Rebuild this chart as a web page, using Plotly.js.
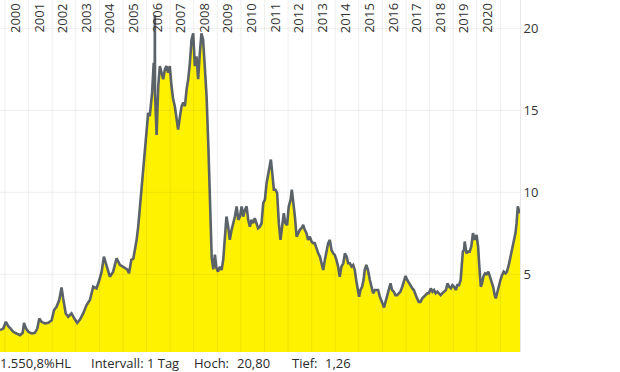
<!DOCTYPE html>
<html>
<head>
<meta charset="utf-8">
<script src="https://cdn.plot.ly/plotly-3.0.1.min.js"></script>
<style>html,body{margin:0;padding:0;background:#fff;}#chart{width:620px;height:372px;}</style>
</head>
<body>
<div id="chart"></div>
<script>
const dates = [
"1999-10-16","1999-12-05","2000-01-15","2000-02-20","2000-03-28","2000-05-08","2000-06-28","2000-08-22","2000-10-01","2000-10-22",
"2000-11-22","2000-12-28","2001-02-17","2001-04-08","2001-05-15","2001-06-15","2001-07-20","2001-09-10","2001-11-02","2001-12-24",
"2002-01-30","2002-03-10","2002-04-20","2002-05-26","2002-06-20","2002-07-30","2002-09-05","2002-10-27","2002-12-20","2003-01-23",
"2003-03-07","2003-04-26","2003-06-17","2003-08-08","2003-09-28","2003-11-18","2004-01-01","2004-02-06","2004-03-11","2004-04-22",
"2004-06-12","2004-08-02","2004-09-24","2004-11-14","2005-01-15","2005-03-07","2005-04-05","2005-05-10","2005-06-10","2005-07-05",
"2005-07-31","2005-08-25","2005-09-20","2005-10-16","2005-11-10","2005-12-05","2006-01-01","2006-01-26","2006-02-20","2006-03-28",
"2006-04-22","2006-05-08","2006-05-10","2006-05-12","2006-06-06","2006-07-01","2006-07-26","2006-08-22","2006-09-16","2006-10-12",
"2006-11-05","2006-12-01","2006-12-27","2007-01-22","2007-02-17","2007-03-14","2007-04-08","2007-05-05","2007-06-03","2007-06-28",
"2007-07-23","2007-08-18","2007-09-13","2007-10-08","2007-11-03","2007-11-28","2007-12-24","2008-01-19","2008-02-13","2008-03-10",
"2008-04-05","2008-04-30","2008-05-26","2008-06-20","2008-07-18","2008-08-15","2008-09-12","2008-10-06","2008-10-31","2008-11-24",
"2008-12-17","2009-01-12","2009-02-10","2009-03-08","2009-04-02","2009-04-27","2009-05-22","2009-06-18","2009-07-13","2009-08-10",
"2009-09-05","2009-09-30","2009-10-27","2009-11-21","2009-12-17","2010-01-12","2010-02-06","2010-03-04","2010-03-30","2010-04-24",
"2010-05-20","2010-06-14","2010-07-10","2010-08-04","2010-08-30","2010-09-24","2010-10-23","2010-11-17","2010-12-13","2011-01-08",
"2011-02-03","2011-02-28","2011-03-26","2011-04-10","2011-05-01","2011-05-26","2011-06-21","2011-07-16","2011-08-11","2011-09-06",
"2011-10-01","2011-10-27","2011-11-21","2011-12-17","2012-01-12","2012-02-10","2012-02-28","2012-03-25","2012-04-16","2012-05-12",
"2012-06-06","2012-07-01","2012-07-27","2012-08-22","2012-09-16","2012-10-12","2012-11-06","2012-12-02","2012-12-31","2013-01-23",
"2013-02-17","2013-03-18","2013-04-12","2013-05-08","2013-06-03","2013-06-28","2013-07-24","2013-08-19","2013-09-13","2013-10-09",
"2013-11-03","2013-11-29","2013-12-24","2014-01-19","2014-02-14","2014-03-11","2014-04-06","2014-05-05","2014-05-30","2014-06-25",
"2014-07-20","2014-08-15","2014-09-10","2014-10-05","2014-10-30","2014-11-25","2014-12-20","2015-01-05","2015-01-26","2015-02-20",
"2015-03-15","2015-04-02","2015-04-27","2015-05-22","2015-06-20","2015-07-16","2015-08-10","2015-09-06","2015-10-01","2015-10-27",
"2015-11-22","2015-12-17","2016-01-12","2016-01-26","2016-02-18","2016-03-15","2016-04-08","2016-05-05","2016-05-30","2016-06-25",
"2016-07-20","2016-08-15","2016-09-10","2016-10-05","2016-11-03","2016-11-28","2016-12-24","2017-01-19","2017-02-14","2017-03-15",
"2017-04-08","2017-05-01","2017-05-26","2017-06-21","2017-07-16","2017-08-11","2017-09-09","2017-10-04","2017-10-30","2017-11-25",
"2017-12-20","2018-01-19","2018-02-14","2018-03-10","2018-04-05","2018-04-30","2018-05-26","2018-06-20","2018-07-15","2018-08-15",
"2018-09-10","2018-10-05","2018-10-30","2018-11-25","2018-12-20","2019-01-15","2019-02-10","2019-03-05","2019-04-01","2019-04-26",
"2019-05-12","2019-05-30","2019-06-17","2019-06-28","2019-07-24","2019-08-15","2019-09-12","2019-10-08","2019-11-03","2019-12-01",
"2019-12-28","2020-01-22","2020-02-06","2020-03-03","2020-03-22","2020-04-12","2020-05-08","2020-06-01","2020-06-28","2020-07-22",
"2020-08-18","2020-09-10","2020-10-04","2020-10-22","2020-11-10","2020-12-05","2021-01-01","2021-01-26","2021-02-20","2021-03-22",
"2021-04-12","2021-05-10","2021-06-05","2021-07-01","2021-07-26","2021-08-22","2021-09-08","2021-09-27","2021-10-12","2021-10-31"
];
const prices = [
1.59,1.69,2.10,1.84,1.69,1.49,1.39,1.29,1.43,2.04,
1.69,1.49,1.39,1.43,1.69,2.31,2.10,2.00,2.04,2.20,
2.82,3.02,3.43,4.20,3.53,2.61,2.41,2.61,2.24,2.04,
2.24,2.61,3.12,3.43,4.24,4.14,4.65,5.16,6.08,5.57,
4.85,5.16,5.98,5.57,5.42,5.30,5.06,5.88,5.95,6.49,
7.10,7.91,9.14,10.36,11.38,12.61,13.63,14.85,14.65,16.08,
17.9,17.5,20.8,16.0,13.5,16.48,17.7,17.3,16.9,17.5,
17.7,17.3,17.7,16.5,15.67,15.26,14.65,13.83,14.65,15.26,
15.47,15.26,16.28,16.89,17.9,19.3,19.7,17.7,18.3,16.9,
18.5,19.7,19.3,17.7,15.9,12.8,9.2,6.0,5.3,6.2,
5.4,5.16,5.47,5.26,5.88,7.10,8.52,7.91,7.10,7.71,
8.12,8.52,9.14,8.32,8.52,9.14,8.52,8.93,9.14,8.32,
7.91,8.32,8.12,8.42,8.12,7.81,7.91,8.12,9.35,9.55,
10.57,11.18,11.79,12.0,11.18,10.16,10.16,9.96,8.12,7.10,
7.91,8.73,8.12,8.0,9.14,9.55,10.16,9.35,8.52,7.30,
7.51,7.71,7.81,8.02,7.71,7.51,7.10,7.30,6.99,6.90,
6.90,6.49,6.28,6.08,5.57,5.26,5.88,6.49,6.90,7.10,
6.49,6.28,6.18,5.88,5.47,4.85,5.47,5.67,6.28,6.08,
5.67,5.67,5.47,5.57,5.26,4.55,3.9,3.63,4.04,4.24,
4.65,5.26,5.57,5.26,4.65,4.24,3.84,4.04,4.04,4.04,
3.63,3.43,3.12,2.98,3.32,3.63,4.14,4.45,4.04,3.94,
3.73,3.73,3.84,3.94,4.24,4.65,4.90,4.65,4.45,4.24,
4.14,4.04,3.73,3.53,3.32,3.32,3.53,3.63,3.73,3.84,
3.84,4.14,3.94,4.04,3.84,3.94,3.84,3.73,3.84,3.94,
4.04,4.45,4.24,4.14,4.34,4.24,4.04,4.34,4.34,4.65,
5.67,6.38,6.49,7.0,6.28,6.38,6.38,6.69,7.51,7.10,
7.40,6.69,5.67,4.24,4.45,4.85,5.06,5.0,5.16,4.85,
4.45,4.24,3.73,3.53,3.84,4.34,4.65,4.95,5.16,5.06,
5.16,5.57,6.08,6.49,6.90,7.51,8.12,9.14,8.93,8.73
];
const yearLabels = ["2000","2001","2002","2003","2004","2005","2006","2007","2008","2009","2010",
"2011","2012","2013","2014","2015","2016","2017","2018","2019","2020"];
const gridYears = ["2000","2001","2002","2003","2004","2005","2006","2007","2008","2009","2010",
"2011","2012","2013","2014","2015","2016","2017","2018","2019","2020","2021"];
const yTicks = [5,10,15,20];
const yTickText = ["5","10","15","20"];
const footerTexts = ["1.550,8%HL","Intervall: 1 Tag","Hoch:","20,80","Tief:","1,26"];
const footerPx = [0,91,194,237,292,325];

const gridColor = 'rgba(0,0,0,0.068)';
const shapes = [];
gridYears.forEach(y => shapes.push({type:'line', xref:'x', yref:'paper', x0:y+'-01-01', x1:y+'-01-01', y0:0, y1:1, line:{color:gridColor, width:1}, layer:'above'}));
yTicks.forEach(v => shapes.push({type:'line', xref:'paper', yref:'y', x0:0, x1:1, y0:v, y1:v, line:{color:gridColor, width:1}, layer:'above'}));

const annotations = [];
yearLabels.forEach(y => annotations.push({x:y+'-06-05', xref:'x', y:1, yref:'paper', yanchor:'top', xanchor:'center', yshift:-1,
  text:y, textangle:-90, showarrow:false, font:{family:'Open Sans', size:13, color:'#333'}}));
footerTexts.forEach((t,i) => annotations.push({x:footerPx[i]/520, xref:'paper', y:-0.031, yref:'paper', xanchor:'left', yanchor:'middle',
  text:t, showarrow:false, font:{family:'Open Sans', size:13, color:'#2a2a2a'}, borderpad:0, xshift:-1}));

const trace = {
  x: dates, y: prices, type:'scatter', mode:'lines',
  line:{color:'#5b6369', width:2.6, shape:'linear'},
  fill:'tozeroy', fillcolor:'rgb(255,242,0)', hoverinfo:'skip'
};

const layout = {
  width:620, height:372,
  margin:{l:0, r:100, t:0, b:20, pad:0},
  paper_bgcolor:'#fff', plot_bgcolor:'#fff',
  showlegend:false,
  font:{family:'Open Sans', size:13, color:'#333'},
  xaxis:{type:'date', range:['1999-10-16','2021-10-31'], showgrid:false, zeroline:false, showticklabels:false, ticks:'', showline:false, fixedrange:true},
  yaxis:{side:'right', range:[0.26,21.73], tickvals:yTicks, ticktext:yTickText, showgrid:false, zeroline:false,
    showline:true, linecolor:'#e8e8e8', linewidth:1, ticks:'', ticklen:0, tickfont:{family:'Open Sans', size:13, color:'#333'}, fixedrange:true},
  shapes: shapes,
  annotations: annotations
};

Plotly.newPlot('chart', [trace], layout, {staticPlot:true, displayModeBar:false});
</script>
</body>
</html>
